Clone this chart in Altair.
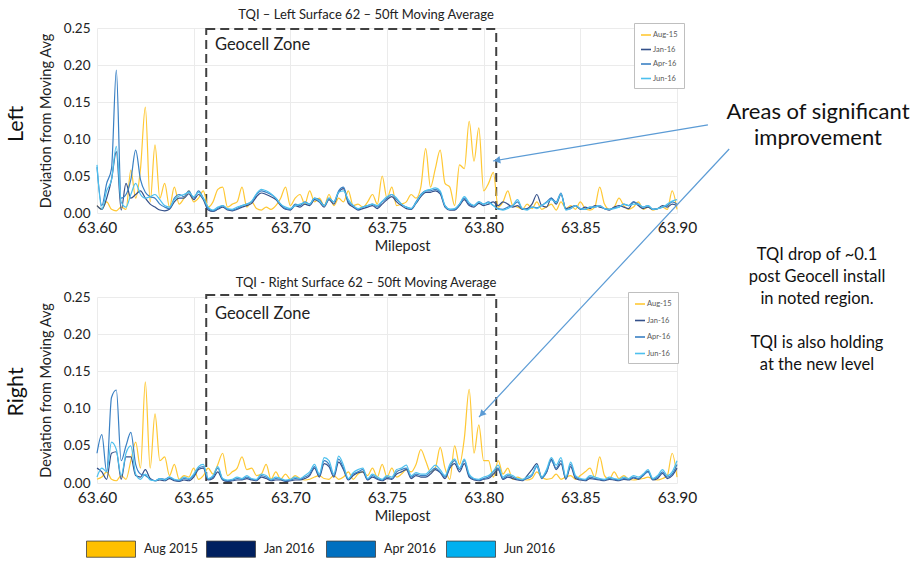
import altair as alt
import pandas as pd

FONT = "Lato"
INK = "#222222"

# Milepost stations (every 0.0025 mi from 63.60 to 63.90)
MILEPOSTS = [round(63.60 + 0.0025 * i, 4) for i in range(121)]
SERIES = ["Aug-15", "Jan-16", "Apr-16", "Jun-16"]
LINE_COLORS = ["#FFC834", "#34508A", "#3A80C4", "#4DC0EE"]
PERIODS = ["Aug 2015", "Jan 2016", "Apr 2016", "Jun 2016"]
PERIOD_COLORS = ["#FFC000", "#002060", "#0070C0", "#00B0F0"]
X_TICKS = [63.60, 63.65, 63.70, 63.75, 63.80, 63.85, 63.90]
Y_TICKS = [0.00, 0.05, 0.10, 0.15, 0.20, 0.25]

# ---- Left rail: deviation from 50 ft moving average ----
LEFT_AUG15 = [
    0.010, 0.005, 0.015, 0.005, 0.003, 0.008, 0.005, 0.058, 0.020, 0.060,
    0.143, 0.015, 0.092, 0.020, 0.040, 0.008, 0.035, 0.012, 0.020, 0.030,
    0.015, 0.020, 0.030, 0.008, 0.015, 0.032, 0.035, 0.008, 0.012, 0.015,
    0.035, 0.008, 0.015, 0.006, 0.004, 0.008, 0.005, 0.010, 0.020, 0.035,
    0.010, 0.020, 0.025, 0.012, 0.030, 0.015, 0.020, 0.010, 0.025, 0.010,
    0.020, 0.015, 0.030, 0.010, 0.012, 0.008, 0.015, 0.025, 0.012, 0.050,
    0.020, 0.035, 0.010, 0.012, 0.015, 0.025, 0.020, 0.035, 0.087, 0.035,
    0.060, 0.085, 0.040, 0.035, 0.010, 0.065, 0.060, 0.124, 0.070, 0.115,
    0.030, 0.040, 0.055, 0.008, 0.015, 0.030, 0.010, 0.008, 0.005, 0.012,
    0.006, 0.015, 0.005, 0.008, 0.012, 0.004, 0.015, 0.006, 0.010, 0.005,
    0.015, 0.006, 0.004, 0.008, 0.035, 0.012, 0.005, 0.008, 0.020, 0.010,
    0.005, 0.008, 0.015, 0.005, 0.008, 0.004, 0.006, 0.008, 0.005, 0.030,
    0.005,
]
LEFT_JAN16 = [
    0.010, 0.005, 0.020, 0.045, 0.083, 0.004, 0.040, 0.020, 0.025, 0.030,
    0.020, 0.012, 0.008, 0.004, 0.003, 0.005, 0.015, 0.020, 0.020, 0.026,
    0.018, 0.025, 0.018, 0.004, 0.002, 0.005, 0.008, 0.004, 0.003, 0.005,
    0.008, 0.010, 0.013, 0.022, 0.027, 0.025, 0.022, 0.018, 0.010, 0.005,
    0.004, 0.010, 0.008, 0.012, 0.010, 0.018, 0.015, 0.008, 0.018, 0.012,
    0.028, 0.033, 0.013, 0.008, 0.004, 0.006, 0.008, 0.010, 0.006, 0.012,
    0.018, 0.022, 0.015, 0.010, 0.006, 0.005, 0.013, 0.022, 0.028, 0.028,
    0.030, 0.026, 0.008, 0.004, 0.004, 0.010, 0.018, 0.010, 0.008, 0.013,
    0.010, 0.012, 0.015, 0.010, 0.015, 0.012, 0.008, 0.010, 0.005, 0.006,
    0.012, 0.025, 0.010, 0.008, 0.020, 0.012, 0.025, 0.006, 0.008, 0.010,
    0.005, 0.008, 0.006, 0.010, 0.008, 0.006, 0.004, 0.008, 0.010, 0.008,
    0.006, 0.015, 0.010, 0.006, 0.008, 0.005, 0.006, 0.010, 0.008, 0.012,
    0.010,
]
LEFT_APR16 = [
    0.062, 0.010, 0.040, 0.060, 0.193, 0.020, 0.025, 0.045, 0.085, 0.045,
    0.028, 0.022, 0.020, 0.012, 0.008, 0.006, 0.020, 0.025, 0.022, 0.030,
    0.020, 0.030, 0.020, 0.006, 0.003, 0.006, 0.010, 0.005, 0.004, 0.006,
    0.010, 0.012, 0.015, 0.025, 0.030, 0.028, 0.025, 0.020, 0.012, 0.006,
    0.005, 0.012, 0.010, 0.015, 0.012, 0.020, 0.018, 0.010, 0.020, 0.015,
    0.030, 0.035, 0.015, 0.010, 0.005, 0.008, 0.010, 0.012, 0.008, 0.015,
    0.020, 0.025, 0.018, 0.012, 0.008, 0.006, 0.015, 0.025, 0.030, 0.030,
    0.032, 0.028, 0.010, 0.005, 0.005, 0.012, 0.020, 0.012, 0.010, 0.015,
    0.012, 0.015, 0.010, 0.006, 0.005, 0.008, 0.010, 0.015, 0.006, 0.005,
    0.008, 0.007, 0.010, 0.015, 0.020, 0.015, 0.027, 0.005, 0.006, 0.010,
    0.006, 0.005, 0.008, 0.008, 0.010, 0.006, 0.005, 0.007, 0.008, 0.012,
    0.010, 0.015, 0.012, 0.008, 0.010, 0.005, 0.006, 0.008, 0.010, 0.015,
    0.012,
]
LEFT_JUN16 = [
    0.065, 0.005, 0.030, 0.045, 0.090, 0.015, 0.008, 0.025, 0.040, 0.025,
    0.020, 0.022, 0.025, 0.018, 0.010, 0.008, 0.018, 0.023, 0.025, 0.028,
    0.022, 0.028, 0.020, 0.008, 0.004, 0.008, 0.010, 0.006, 0.005, 0.008,
    0.010, 0.012, 0.016, 0.026, 0.032, 0.030, 0.026, 0.020, 0.012, 0.008,
    0.006, 0.010, 0.012, 0.014, 0.012, 0.020, 0.016, 0.010, 0.020, 0.015,
    0.028, 0.030, 0.018, 0.010, 0.006, 0.008, 0.010, 0.012, 0.010, 0.016,
    0.022, 0.025, 0.020, 0.012, 0.008, 0.006, 0.014, 0.024, 0.030, 0.032,
    0.034, 0.030, 0.010, 0.005, 0.006, 0.012, 0.022, 0.014, 0.010, 0.015,
    0.012, 0.014, 0.010, 0.005, 0.004, 0.006, 0.010, 0.018, 0.006, 0.004,
    0.008, 0.006, 0.010, 0.014, 0.018, 0.014, 0.026, 0.004, 0.006, 0.010,
    0.006, 0.005, 0.008, 0.008, 0.010, 0.006, 0.005, 0.006, 0.008, 0.012,
    0.010, 0.012, 0.012, 0.008, 0.010, 0.005, 0.006, 0.008, 0.012, 0.016,
    0.018,
]

# ---- Right rail ----
RIGHT_AUG15 = [
    0.005, 0.008, 0.015, 0.005, 0.003, 0.010, 0.005, 0.030, 0.055, 0.020,
    0.136, 0.020, 0.093, 0.030, 0.035, 0.010, 0.025, 0.005, 0.010, 0.008,
    0.020, 0.005, 0.010, 0.020, 0.012, 0.025, 0.040, 0.010, 0.015, 0.020,
    0.035, 0.018, 0.020, 0.010, 0.012, 0.025, 0.005, 0.015, 0.005, 0.012,
    0.005, 0.010, 0.006, 0.004, 0.005, 0.008, 0.010, 0.006, 0.005, 0.010,
    0.005, 0.008, 0.015, 0.005, 0.012, 0.015, 0.010, 0.020, 0.008, 0.025,
    0.008, 0.020, 0.008, 0.012, 0.018, 0.015, 0.025, 0.045, 0.030, 0.015,
    0.020, 0.048, 0.020, 0.005, 0.050, 0.025, 0.060, 0.126, 0.040, 0.078,
    0.030, 0.030, 0.008, 0.030, 0.012, 0.020, 0.005, 0.008, 0.005, 0.004,
    0.006, 0.015, 0.008, 0.005, 0.006, 0.012, 0.005, 0.008, 0.010, 0.005,
    0.010, 0.015, 0.020, 0.008, 0.035, 0.010, 0.005, 0.015, 0.006, 0.010,
    0.005, 0.004, 0.005, 0.006, 0.008, 0.005, 0.004, 0.006, 0.010, 0.040,
    0.008,
]
RIGHT_JAN16 = [
    0.020, 0.015, 0.005, 0.040, 0.042, 0.005, 0.035, 0.035, 0.010, 0.008,
    0.018, 0.006, 0.003, 0.004, 0.003, 0.006, 0.003, 0.002, 0.004, 0.003,
    0.008, 0.018, 0.020, 0.004, 0.006, 0.015, 0.004, 0.002, 0.003, 0.004,
    0.004, 0.006, 0.004, 0.003, 0.008, 0.006, 0.003, 0.004, 0.004, 0.002,
    0.003, 0.004, 0.004, 0.006, 0.010, 0.020, 0.008, 0.026, 0.022, 0.008,
    0.028, 0.018, 0.004, 0.010, 0.014, 0.015, 0.004, 0.008, 0.005, 0.003,
    0.006, 0.005, 0.012, 0.015, 0.018, 0.006, 0.010, 0.008, 0.008, 0.012,
    0.018, 0.014, 0.006, 0.020, 0.026, 0.015, 0.026, 0.008, 0.004, 0.003,
    0.005, 0.006, 0.012, 0.018, 0.005, 0.008, 0.006, 0.004, 0.003, 0.010,
    0.018, 0.026, 0.008, 0.014, 0.032, 0.018, 0.026, 0.005, 0.022, 0.006,
    0.004, 0.003, 0.006, 0.005, 0.004, 0.003, 0.005, 0.004, 0.003, 0.005,
    0.004, 0.007, 0.005, 0.010, 0.016, 0.004, 0.006, 0.013, 0.006, 0.010,
    0.020,
]
RIGHT_APR16 = [
    0.040, 0.065, 0.015, 0.115, 0.125, 0.030, 0.050, 0.068, 0.025, 0.012,
    0.010, 0.005, 0.003, 0.006, 0.005, 0.008, 0.004, 0.003, 0.006, 0.005,
    0.010, 0.020, 0.022, 0.005, 0.008, 0.020, 0.005, 0.003, 0.004, 0.006,
    0.005, 0.008, 0.005, 0.004, 0.010, 0.008, 0.004, 0.006, 0.005, 0.003,
    0.004, 0.006, 0.005, 0.008, 0.012, 0.022, 0.010, 0.030, 0.025, 0.010,
    0.032, 0.020, 0.005, 0.012, 0.015, 0.018, 0.005, 0.010, 0.006, 0.004,
    0.008, 0.006, 0.015, 0.018, 0.020, 0.008, 0.012, 0.010, 0.010, 0.015,
    0.020, 0.015, 0.008, 0.022, 0.030, 0.018, 0.030, 0.010, 0.005, 0.004,
    0.006, 0.008, 0.015, 0.020, 0.006, 0.010, 0.008, 0.005, 0.004, 0.006,
    0.010, 0.022, 0.006, 0.015, 0.030, 0.020, 0.030, 0.006, 0.025, 0.008,
    0.005, 0.004, 0.008, 0.006, 0.005, 0.004, 0.006, 0.005, 0.004, 0.006,
    0.005, 0.008, 0.006, 0.010, 0.015, 0.005, 0.008, 0.015, 0.008, 0.012,
    0.025,
]
RIGHT_JUN16 = [
    0.008, 0.020, 0.015, 0.055, 0.045, 0.010, 0.040, 0.050, 0.012, 0.005,
    0.012, 0.004, 0.003, 0.006, 0.004, 0.008, 0.005, 0.004, 0.008, 0.006,
    0.012, 0.022, 0.025, 0.006, 0.010, 0.022, 0.006, 0.004, 0.005, 0.008,
    0.006, 0.010, 0.006, 0.005, 0.012, 0.010, 0.005, 0.008, 0.006, 0.004,
    0.005, 0.008, 0.006, 0.010, 0.015, 0.025, 0.012, 0.034, 0.030, 0.012,
    0.036, 0.024, 0.006, 0.014, 0.018, 0.020, 0.006, 0.012, 0.008, 0.005,
    0.010, 0.008, 0.018, 0.020, 0.024, 0.010, 0.014, 0.012, 0.012, 0.018,
    0.024, 0.018, 0.010, 0.025, 0.032, 0.020, 0.032, 0.012, 0.006, 0.005,
    0.008, 0.010, 0.016, 0.024, 0.008, 0.012, 0.010, 0.006, 0.005, 0.008,
    0.012, 0.024, 0.008, 0.018, 0.034, 0.024, 0.034, 0.008, 0.028, 0.010,
    0.006, 0.005, 0.010, 0.008, 0.006, 0.005, 0.008, 0.006, 0.005, 0.008,
    0.006, 0.010, 0.008, 0.012, 0.018, 0.006, 0.010, 0.018, 0.010, 0.015,
    0.030,
]

# Geocell installation zone and annotation anchors (milepost, deviation)
ZONE_START, ZONE_END = 63.6565, 63.8065
LEFT_ZONE_Y = (0.2486, -0.0068)
RIGHT_ZONE_Y = (0.2527, 0.0)
LEFT_ARROW = {"x": 63.916, "y": 0.119, "x2": 63.8048, "y2": 0.0703}
LEFT_HEAD = {"x": 63.8069, "y": 0.0712}
RIGHT_ARROW = {"x": 63.927, "y": 0.4489, "x2": 63.7976, "y2": 0.0887}
RIGHT_HEAD = {"x": 63.799, "y": 0.0926}

XS = alt.Scale(domain=[63.60, 63.90], nice=False, zero=False)
YS = alt.Scale(domain=[0, 0.25], nice=False, zero=False)
ARROW_BLUE = "#5B9BD5"

X_AXIS = alt.Axis(
    title="Milepost", values=X_TICKS, format=".2f", labelFont=FONT,
    labelFontSize=15.5, labelColor=INK, labelPadding=7, labelFlush=False,
    labelOverlap=False, ticks=False, domain=False, grid=True,
    gridColor="#EBEBEB", titleFont=FONT, titleFontSize=14.5,
    titleFontWeight="normal", titleColor=INK, titlePadding=4, titleX=305,
)
Y_AXIS = alt.Axis(
    title="Deviation from Moving Avg", values=Y_TICKS, format=".2f",
    labelFont=FONT, labelFontSize=13.5, labelColor=INK, labelPadding=7,
    ticks=False, domain=False, grid=True, gridColor="#EBEBEB",
    titleFont=FONT, titleFontSize=14.5, titleFontWeight="normal",
    titleColor=INK, titlePadding=10,
)


def ex(field):
    return alt.X(field, type="quantitative", scale=XS, axis=X_AXIS)


def ey(field):
    return alt.Y(field, type="quantitative", scale=YS, axis=Y_AXIS)


def long_frame(arrays):
    rows = []
    for name, vals in zip(SERIES, arrays):
        for m, v in zip(MILEPOSTS, vals):
            rows.append({"milepost": m, "series": name, "value": v})
    return pd.DataFrame(rows)


def one_row():
    return pd.DataFrame({"k": [0]})


def pixel_text(lines, x, y, size, color="#111111", **kw):
    return alt.Chart(one_row()).mark_text(
        text=lines, font=FONT, fontSize=size, color=color,
        align="center", baseline="middle", clip=False, **kw
    ).encode(x=alt.value(x), y=alt.value(y))


def panel(arrays, title, title_y, zone_y, legend_x, legend_y, row_pad):
    lines = alt.Chart(long_frame(arrays)).mark_line(
        strokeWidth=1.2, interpolate="monotone"
    ).encode(
        x=ex("milepost"),
        y=ey("value"),
        color=alt.Color(
            "series:N", sort=SERIES,
            scale=alt.Scale(domain=SERIES, range=LINE_COLORS),
            legend=alt.Legend(
                orient="none", legendX=legend_x, legendY=legend_y, title=None,
                fillColor="white", strokeColor="#BFBFBF", padding=6,
                labelFont=FONT, labelFontSize=7.5, labelColor="#595959",
                symbolType="stroke", symbolSize=100, symbolStrokeWidth=1.6,
                rowPadding=row_pad, labelOffset=1,
            ),
        ),
    )
    zone_df = pd.DataFrame({"x": [ZONE_START], "x2": [ZONE_END],
                            "y": [zone_y[0]], "y2": [zone_y[1]]})
    zone = alt.Chart(zone_df).mark_rect(
        fillOpacity=0, stroke="#404040", strokeWidth=2, strokeDash=[9, 5], clip=False
    ).encode(x=ex("x"), x2="x2:Q", y=ey("y"), y2="y2:Q")
    zone_label = alt.Chart(
        pd.DataFrame({"x": [63.661], "y": [0.2275], "t": ["Geocell Zone"]})
    ).mark_text(
        align="left", baseline="middle", font=FONT, fontSize=16.5, color=INK, clip=False
    ).encode(x=ex("x"), y=ey("y"), text="t:N")
    heading = pixel_text(title, 269, title_y, 13, color=INK)
    return [zone, lines, zone_label, heading]


def arrow(line, head, angle):
    shaft = alt.Chart(pd.DataFrame([line])).mark_rule(
        color=ARROW_BLUE, strokeWidth=1.2, clip=False
    ).encode(x=ex("x"), x2="x2:Q", y=ey("y"), y2="y2:Q")
    tip = alt.Chart(pd.DataFrame([head])).mark_point(
        shape="triangle-up", filled=True, size=55, angle=angle,
        color=ARROW_BLUE, opacity=1, clip=False
    ).encode(x=ex("x"), y=ey("y"))
    return [shaft, tip]


def side_label(text, y):
    return pixel_text(text, -80, y, 21.5, angle=270)


# ---------- top panel (left rail) ----------
top_layers = panel(
    [LEFT_AUG15, LEFT_JAN16, LEFT_APR16, LEFT_JUN16],
    "TQI – Left Surface 62 – 50ft Moving Average", -13, LEFT_ZONE_Y, 537, -5, 4.5,
)
canvas = alt.Chart(one_row()).mark_rect(opacity=0).encode(
    x=alt.value(-97), x2=alt.value(818), y=alt.value(-28), y2=alt.value(533)
)
callout = pixel_text(["Areas of significant", "improvement"], 721, 84, 22, lineHeight=26)
note_a = pixel_text(["TQI drop of ~0.1", "post Geocell install", "in noted region."],
                    720, 227, 16.5, lineHeight=22)
note_b = pixel_text(["TQI is also holding", "at the new level"], 720, 315, 16.5, lineHeight=22)

top = alt.layer(
    canvas, *top_layers, *arrow(LEFT_ARROW, LEFT_HEAD, 260),
    side_label("Left", 96), callout, note_a, note_b,
).properties(width=580, height=185)

# ---------- bottom panel (right rail) ----------
bot_layers = panel(
    [RIGHT_AUG15, RIGHT_JAN16, RIGHT_APR16, RIGHT_JUN16],
    "TQI - Right Surface 62 – 50ft Moving Average", -14, RIGHT_ZONE_Y, 531, -5, 6.5,
)
period_key = alt.Chart(pd.DataFrame({"period": PERIODS})).transform_filter(
    "false"
).mark_point(filled=True, opacity=1).encode(
    x=alt.value(0), y=alt.value(0),
    fill=alt.Fill(
        "period:N", sort=PERIODS,
        scale=alt.Scale(domain=PERIODS, range=PERIOD_COLORS),
        legend=alt.Legend(
            orient="none", legendX=-11, legendY=227, direction="horizontal",
            columns=4, title=None, symbolType="M-1,-0.33H1V0.33H-1Z",
            symbolSize=2401, symbolStrokeColor="#3F3F3F", symbolStrokeWidth=0.8,
            symbolOpacity=1, labelFont=FONT, labelFontSize=12.5, labelColor=INK,
            labelOffset=8, columnPadding=6, gridAlign="all", padding=0,
        ),
    ),
)
bottom = alt.layer(
    *bot_layers, *arrow(RIGHT_ARROW, RIGHT_HEAD, 223),
    side_label("Right", 95), period_key,
).properties(width=580, height=186)

chart = alt.vconcat(top, bottom, spacing=84, bounds="flush").resolve_scale(
    color="independent", fill="independent"
).configure_view(stroke=None).properties(padding=0, background="white")

chart.save("out.html", embed_options={"renderer": "svg", "actions": False})
